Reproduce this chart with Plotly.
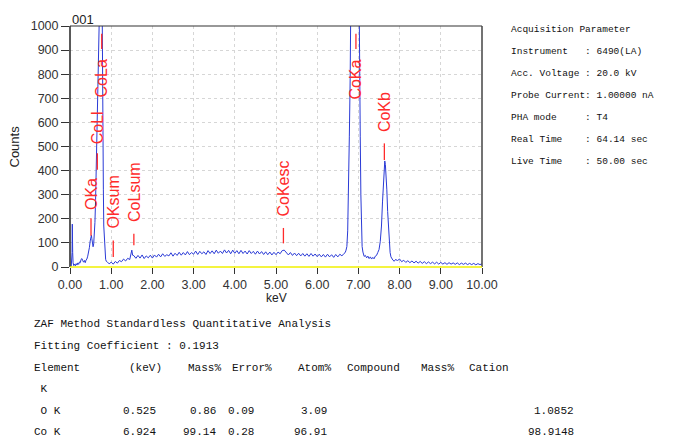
import plotly.graph_objects as go

# ---------------- data ----------------
low_region = [(0.00, 0), (0.03, 2), (0.05, 60), (0.056, 178), (0.065, 60), (0.075, 18), (0.09, 6),
              (0.11, 12), (0.13, 5), (0.15, 14), (0.17, 8), (0.19, 17), (0.21, 11), (0.23, 21),
              (0.25, 18), (0.27, 32), (0.29, 35), (0.31, 26), (0.33, 20), (0.35, 27), (0.37, 18),
              (0.39, 29), (0.41, 33), (0.43, 45), (0.45, 58), (0.47, 80), (0.49, 108), (0.51, 125),
              (0.52, 132), (0.53, 118), (0.545, 95), (0.56, 84), (0.575, 96), (0.59, 130),
              (0.605, 185), (0.62, 270), (0.635, 380), (0.65, 490), (0.665, 620), (0.68, 760),
              (0.695, 870), (0.71, 960), (0.725, 1150), (0.745, 1500), (0.765, 1550), (0.78, 1100),
              (0.79, 620), (0.80, 450), (0.81, 320), (0.82, 170), (0.835, 95), (0.85, 55),
              (0.865, 32), (0.88, 24)]
background = [(0.90, 22), (0.95, 13), (1.00, 20), (1.05, 12), (1.10, 23), (1.15, 16), (1.20, 27),
              (1.25, 22), (1.30, 33), (1.35, 25), (1.40, 36), (1.45, 31), (1.48, 52), (1.50, 70),
              (1.52, 49), (1.55, 47), (1.60, 36), (1.65, 48), (1.70, 37), (1.75, 50), (1.80, 35),
              (1.85, 46), (1.90, 38), (1.95, 49), (2.00, 37), (2.05, 50), (2.10, 41), (2.15, 53),
              (2.20, 42), (2.25, 55), (2.30, 44), (2.35, 51), (2.40, 46), (2.45, 59), (2.50, 45),
              (2.55, 57), (2.60, 48), (2.65, 61), (2.70, 49), (2.75, 60), (2.80, 50), (2.85, 64),
              (2.90, 51), (2.95, 60), (3.00, 53), (3.05, 66), (3.10, 52), (3.15, 65), (3.20, 55),
              (3.25, 63), (3.30, 52), (3.35, 68), (3.40, 56), (3.45, 67), (3.50, 55), (3.55, 70),
              (3.60, 57), (3.65, 66), (3.70, 56), (3.75, 71), (3.80, 58), (3.85, 69), (3.90, 55),
              (3.95, 70), (4.00, 57), (4.05, 68), (4.10, 55), (4.15, 69), (4.20, 56), (4.25, 66),
              (4.30, 54), (4.35, 68), (4.40, 56), (4.45, 65), (4.50, 53), (4.55, 66), (4.60, 54),
              (4.65, 64), (4.70, 52), (4.75, 63), (4.80, 51), (4.85, 62), (4.90, 50), (4.95, 61),
              (5.00, 51), (5.05, 62), (5.10, 55), (5.15, 68), (5.20, 70), (5.25, 58), (5.30, 50),
              (5.35, 60), (5.40, 48), (5.45, 58), (5.50, 47), (5.55, 57), (5.60, 46), (5.65, 56),
              (5.70, 45), (5.75, 55), (5.80, 44), (5.85, 56), (5.90, 45), (5.95, 54), (6.00, 43),
              (6.05, 53), (6.10, 42), (6.15, 52), (6.20, 41), (6.25, 53), (6.30, 42), (6.35, 51),
              (6.40, 40), (6.45, 52), (6.50, 42), (6.55, 53), (6.60, 46)]
cok_region = [(6.65, 56), (6.68, 60), (6.70, 70), (6.72, 85), (6.74, 150), (6.76, 300), (6.78, 540),
              (6.80, 780), (6.82, 1000), (6.85, 1600), (6.88, 2600), (6.92, 3200), (6.96, 2800),
              (6.99, 1700), (7.01, 1150), (7.03, 800), (7.045, 540), (7.06, 300), (7.075, 160),
              (7.09, 85), (7.11, 62), (7.14, 44), (7.17, 48), (7.20, 38), (7.23, 45), (7.26, 35),
              (7.29, 42), (7.32, 33), (7.35, 40), (7.38, 34), (7.41, 45), (7.44, 48), (7.47, 60),
              (7.50, 72), (7.53, 105), (7.56, 170), (7.585, 270), (7.61, 380), (7.625, 430),
              (7.64, 440), (7.655, 425), (7.67, 390), (7.69, 320), (7.71, 230), (7.73, 150),
              (7.75, 95), (7.77, 60), (7.79, 42), (7.81, 35), (7.84, 28)]
tail_region = [(7.87, 24), (7.90, 31), (7.95, 27), (8.00, 33), (8.05, 22), (8.10, 28), (8.15, 19),
               (8.20, 26), (8.25, 18), (8.30, 25), (8.35, 17), (8.40, 24), (8.45, 16), (8.50, 23),
               (8.55, 15), (8.60, 22), (8.65, 14), (8.70, 21), (8.75, 14), (8.80, 20), (8.85, 13),
               (8.90, 20), (8.95, 12), (9.00, 19), (9.05, 12), (9.10, 18), (9.15, 11), (9.20, 18),
               (9.25, 12), (9.30, 17), (9.35, 11), (9.40, 17), (9.45, 10), (9.50, 16), (9.55, 11),
               (9.60, 16), (9.65, 10), (9.70, 15), (9.75, 10), (9.80, 15), (9.85, 9), (9.90, 14),
               (9.95, 10), (10.00, 13)]

# peak labels: name, energy (keV), marker line lower/upper counts, label base counts
peak_names = ["OKa", "CoLl", "CoLa", "OKsum", "CoLsum", "CoKesc", "CoKa", "CoKb"]
peak_kev = [0.51, 0.663, 0.77, 1.05, 1.55, 5.18, 6.94, 7.63]
mark_lo = [130, 404, 905, 41, 90, 98, 905, 444]
mark_hi = [202, 472, 968, 110, 138, 162, 968, 513]
label_base = [228, 500, 694, 150, 178, 203, 686, 553]

x_ticks = [0, 1, 2, 3, 4, 5, 6, 7, 8, 9, 10]
y_ticks = [0, 100, 200, 300, 400, 500, 600, 700, 800, 900, 1000]

acq_lines = ["Acquisition Parameter",
             "Instrument   : 6490(LA)",
             "Acc. Voltage : 20.0 kV",
             "Probe Current: 1.00000 nA",
             "PHA mode     : T4",
             "Real Time    : 64.14 sec",
             "Live Time    : 50.00 sec"]
zaf_title = "ZAF Method Standardless Quantitative Analysis"
fit_line = "Fitting Coefficient : 0.1913"
table_header = ["Element", "(keV)", "Mass%", "Error%", "Atom%", "Compound", "Mass%", "Cation"]
table_rows = [["O K", "0.525", "0.86", "0.09", "3.09", "1.0852"],
              ["Co K", "6.924", "99.14", "0.28", "96.91", "98.9148"]]

# ---------------- build ----------------
spectrum = low_region + background + cok_region + tail_region
energy_kev = [p[0] for p in spectrum]
counts = [p[1] for p in spectrum]

# page body has an 8px margin: the figure is drawn 8px smaller and offset
OFF = 8
FW, FH = 680 - OFF, 446 - OFF
L, T, W, H = 70, 19, 412, 248   # plot area in page pixels


def px(x):
    return (x - L) / W


def py(y):
    return (T + H - y) / H


AX = "Arial, Liberation Sans, sans-serif"
MONO = "Liberation Mono, Courier New, monospace"

fig = go.Figure()
fig.add_trace(go.Scatter(x=energy_kev, y=counts, mode="lines",
                         line=dict(color="#2a3ad6", width=1), hoverinfo="skip",
                         showlegend=False))

shapes = []
annotations = []
red = "#ff2b2b"
for name, e, lo, hi, base in zip(peak_names, peak_kev, mark_lo, mark_hi, label_base):
    shapes.append(dict(type="line", xref="x", yref="y", x0=e, x1=e, y0=lo, y1=hi,
                       line=dict(color=red, width=1.3), layer="above"))
    annotations.append(dict(x=e, y=base, xref="x", yref="y", text=name, showarrow=False,
                            textangle=-90, xanchor="center", yanchor="bottom",
                            font=dict(family=AX, size=16, color=red)))

# frame
shapes += [
    dict(type="line", xref="paper", yref="paper", x0=0, x1=0, y0=0, y1=1,
         line=dict(color="#222222", width=1.5), layer="above"),
    dict(type="line", xref="paper", yref="paper", x0=0, x1=1, y0=1, y1=1,
         line=dict(color="#333333", width=1.2), layer="above"),
    dict(type="line", xref="paper", yref="paper", x0=1, x1=1, y0=0, y1=1,
         line=dict(color="#444444", width=1.5), layer="above"),
    dict(type="line", xref="paper", yref="paper", x0=0, x1=1, y0=0, y1=0,
         line=dict(color="#f0f000", width=1.6), layer="above"),
]

# text items
annotations.append(dict(x=px(70), y=py(12), xref="paper", yref="paper", text="001",
                        showarrow=False, xanchor="left", yanchor="middle",
                        font=dict(family=AX, size=13, color="#222")))
annotations.append(dict(x=px(14), y=py(143), xref="paper", yref="paper", text="Counts",
                        showarrow=False, textangle=-90, xanchor="center", yanchor="middle",
                        font=dict(family=AX, size=13, color="#222")))
annotations.append(dict(x=px(276), y=py(299), xref="paper", yref="paper", text="keV",
                        showarrow=False, xanchor="center", yanchor="middle",
                        font=dict(family=AX, size=12, color="#222")))


def mono(text, xpix, ypix, anchor="left", size=11):
    annotations.append(dict(x=px(xpix), y=py(ypix), xref="paper", yref="paper",
                            text=text.replace(" ", "&nbsp;"), showarrow=False,
                            xanchor=anchor, yanchor="middle",
                            font=dict(family=MONO, size=size, color="#111")))


for i, s in enumerate(acq_lines):
    mono(s, 509, 23 + 22.5 * i, size=9.5)

mono(zaf_title, 32, 326)
mono(fit_line, 32, 348)
header_x = [32, 127, 186, 230, 296, 345, 419, 467]
for h, xp in zip(table_header, header_x):
    mono(h, xp, 371)
mono(" K", 32, 393)
row_y = [415, 437]
value_right = [158, 218, 256, 329, 576]
for r, yy in zip(table_rows, row_y):
    mono((" " if r[0] == "O K" else "") + r[0], 32, yy)
    for v, xr in zip(r[1:], value_right):
        mono(v, xr, yy, anchor="right")

fig.update_layout(
    width=FW, height=FH, autosize=False,
    margin=dict(l=L - OFF, r=FW - (L - OFF) - W, t=T - OFF, b=FH - (T - OFF) - H, pad=0),
    paper_bgcolor="white", plot_bgcolor="white",
    showlegend=False,
    shapes=shapes, annotations=annotations,
    xaxis=dict(range=[0, 10], tickvals=x_ticks, ticktext=[f"{v:.2f}" for v in x_ticks],
               showgrid=True, gridcolor="#d6d6d6", griddash="3px,3px", gridwidth=1,
               zeroline=False, showline=False, ticks="outside", ticklen=6, tickwidth=1.2,
               tickcolor="#333", tickfont=dict(family=AX, size=12.5, color="#333")),
    yaxis=dict(range=[0, 1000], tickvals=y_ticks, showgrid=True, gridcolor="#d6d6d6",
               griddash="3px,3px", gridwidth=1, zeroline=False, showline=False,
               ticks="outside", ticklen=8, tickwidth=1.2, tickcolor="#333",
               tickfont=dict(family=AX, size=12.5, color="#333")),
)

fig.write_html("out.html")
